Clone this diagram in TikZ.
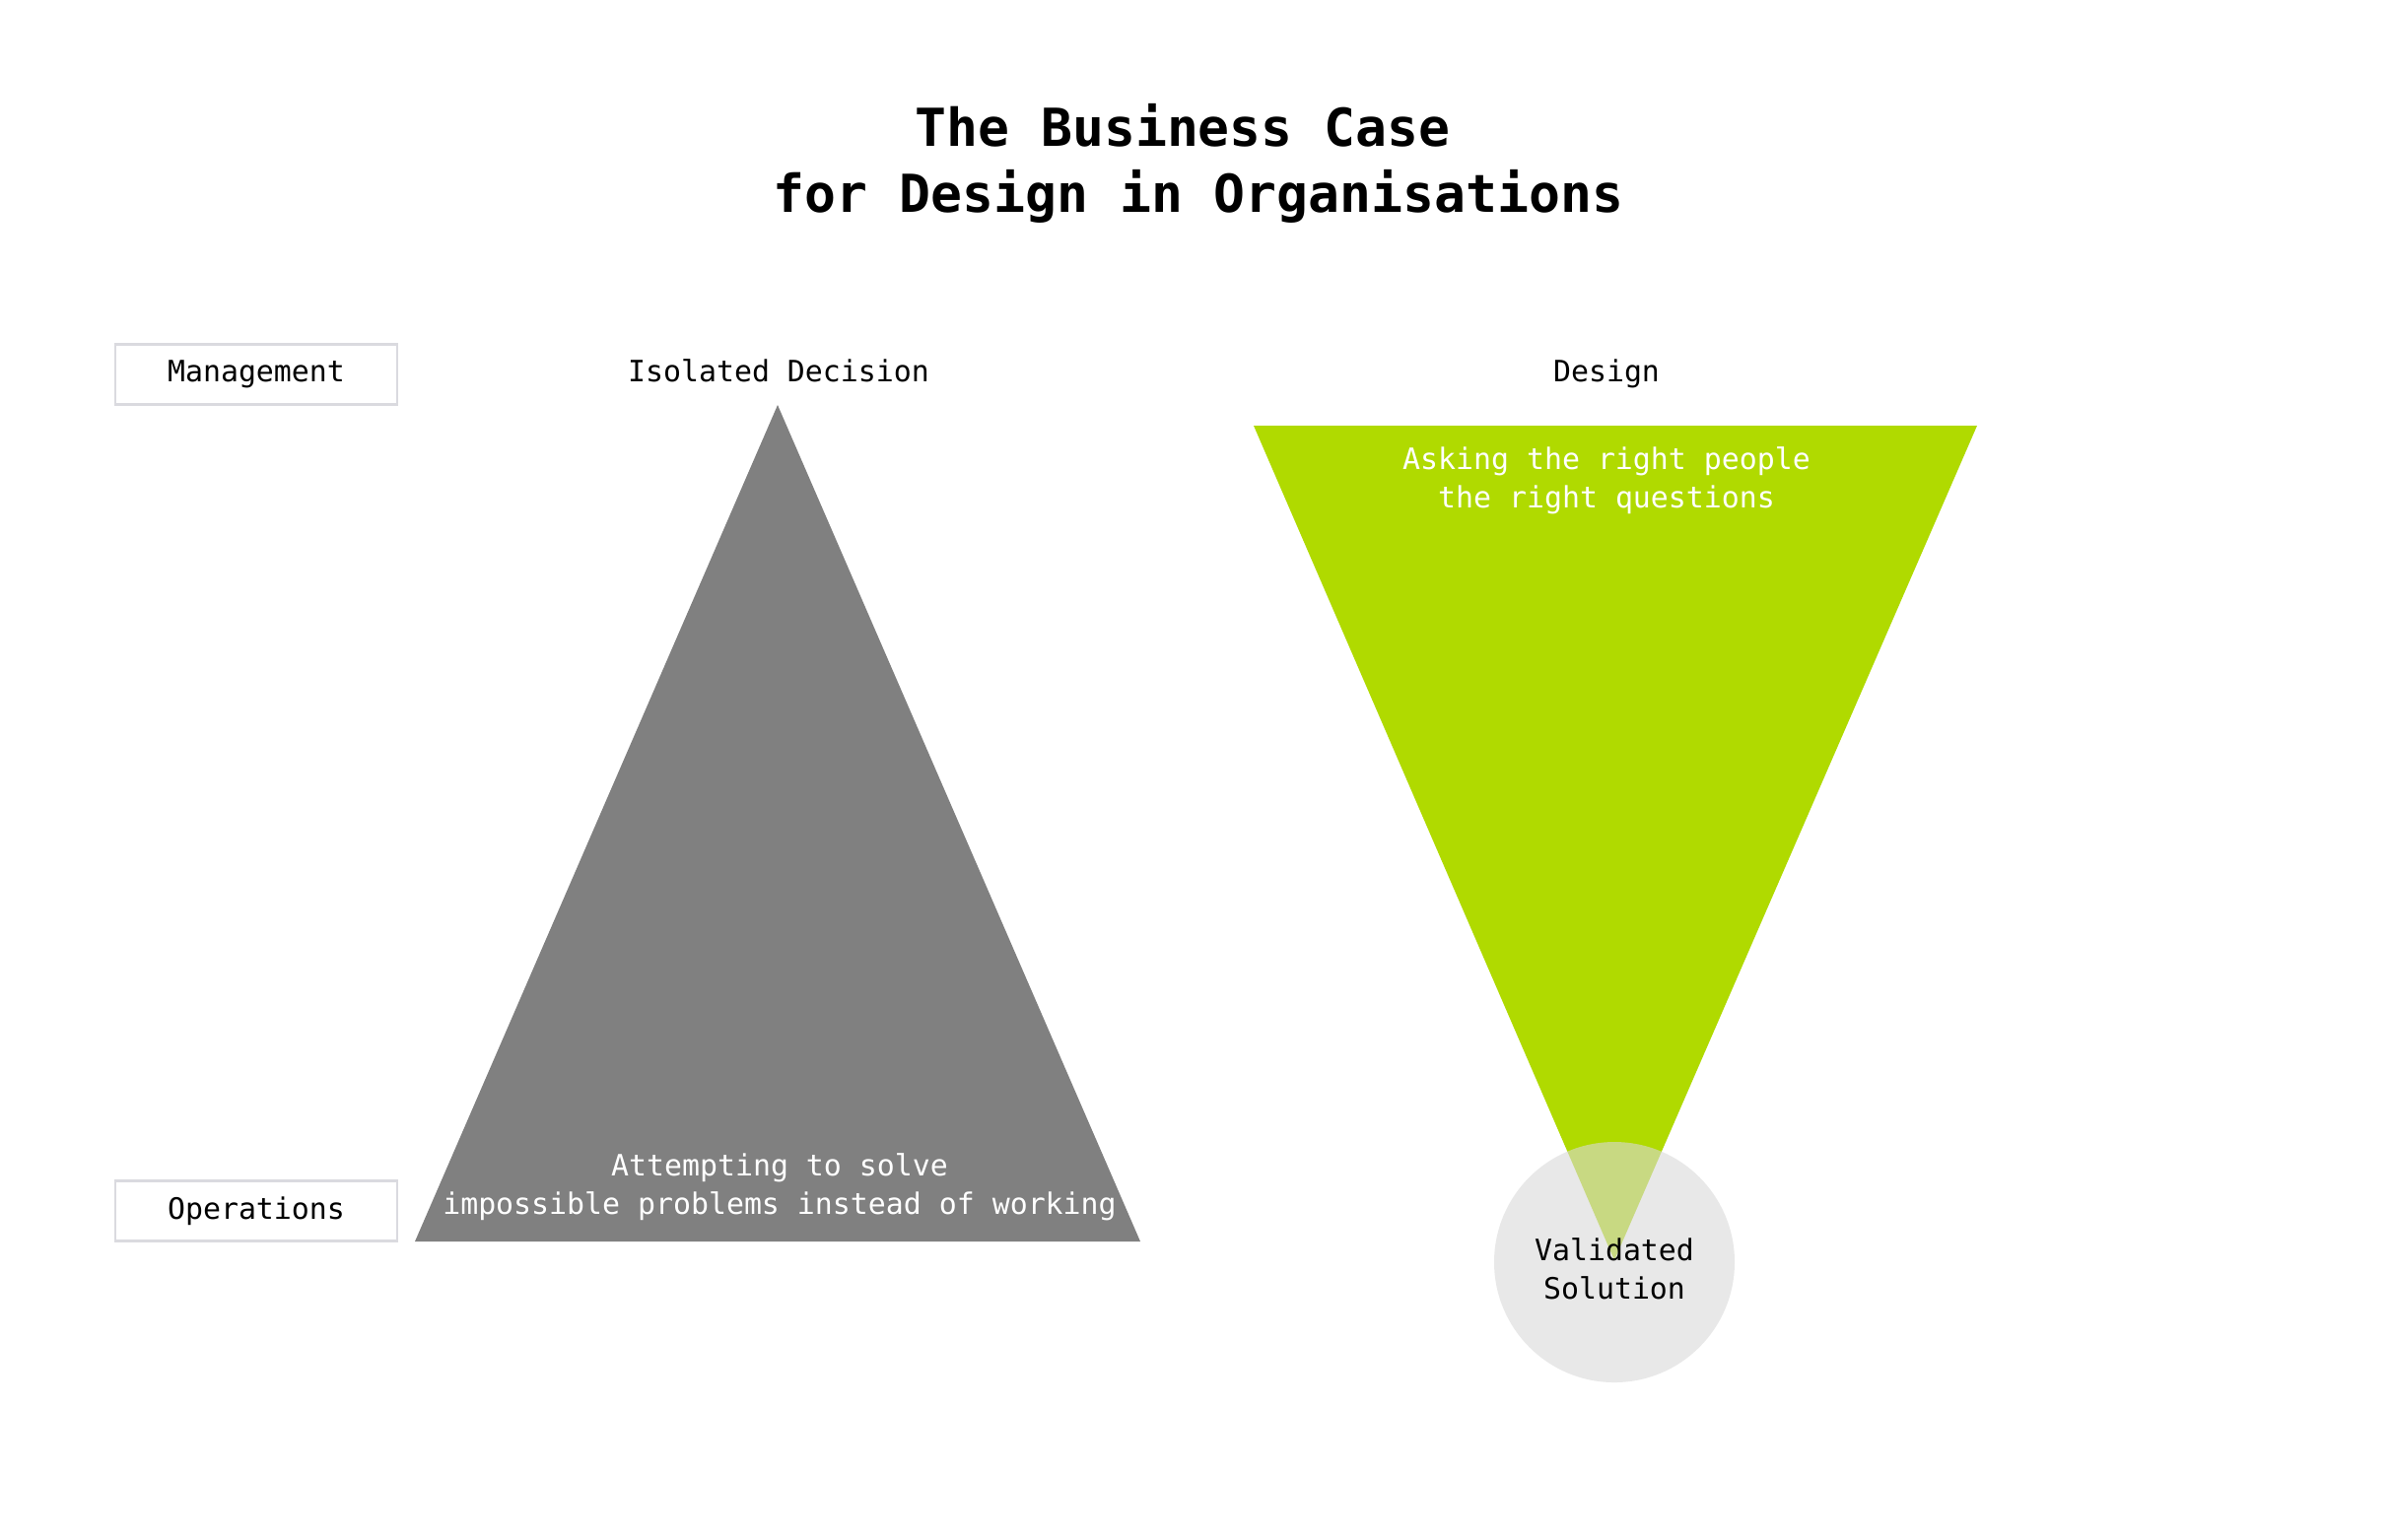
\documentclass[tikz,border=0pt]{standalone}
\usepackage{fontspec}
\setmonofont{DejaVu Sans Mono}
\usepackage{tikz}
\usetikzlibrary{positioning}
\definecolor{designgreen}{HTML}{B0DA00}
\definecolor{decgray}{HTML}{808080}
\definecolor{boxline}{HTML}{DADADF}
\definecolor{solgray}{HTML}{D9D9D9}

\begin{document}
\begin{tikzpicture}[x=0.1mm, y=-0.1mm,
	every node/.style = {align=center, inner sep=0pt,
		font=\ttfamily\fontsize{8.5}{11.06}\selectfont},
	tierbox/.style = {draw=boxline, line width=0.85pt, fill=white,
		minimum width=28.6mm, minimum height=6.1mm},
	caption/.style = {anchor=base},
	whitetext/.style = {anchor=base, text=white}]
	\useasboundingbox (0,0) rectangle (2426,1562);
	\fill[white] (0,0) rectangle (2426,1562);

	% title
	\node[anchor=base, font=\ttfamily\bfseries\fontsize{15.1}{19}\selectfont] (title)
		at (1216,215) {The Business Case\hphantom{x}\\for Design in Organisations};

	% levels
	\node[tierbox] (mgmt) at (260,380) {Management};
	\node[tierbox] (ops) at (260,1229) {Operations};

	% isolated decision
	\coordinate (decapex) at (789,411);
	\coordinate (decright) at (1157,1260);
	\coordinate (decleft) at (421,1260);
	\fill[decgray] (decapex) -- (decright) -- (decleft) -- cycle;
	\node[caption] (isodec) at (790,387) {Isolated Decision};
	\node[whitetext] (attempt) at (791,1232)
		{Attempting to solve\\impossible problems instead of working};

	% design
	\coordinate (desleft) at (1272,432);
	\coordinate (desright) at (2006,432);
	\coordinate (desapex) at (1638,1279);
	\fill[designgreen] (desleft) -- (desright) -- (desapex) -- cycle;
	\node[caption] (design) at (1630,387) {Design};
	\node[whitetext] (asking) at (1630,515) {Asking the right people\\the right questions};

	% validated solution
	\fill[solgray, fill opacity=0.6] (1638,1281) circle (122);
	\node[caption] (solution) at (1638,1318) {Validated\\Solution};
\end{tikzpicture}
\end{document}
